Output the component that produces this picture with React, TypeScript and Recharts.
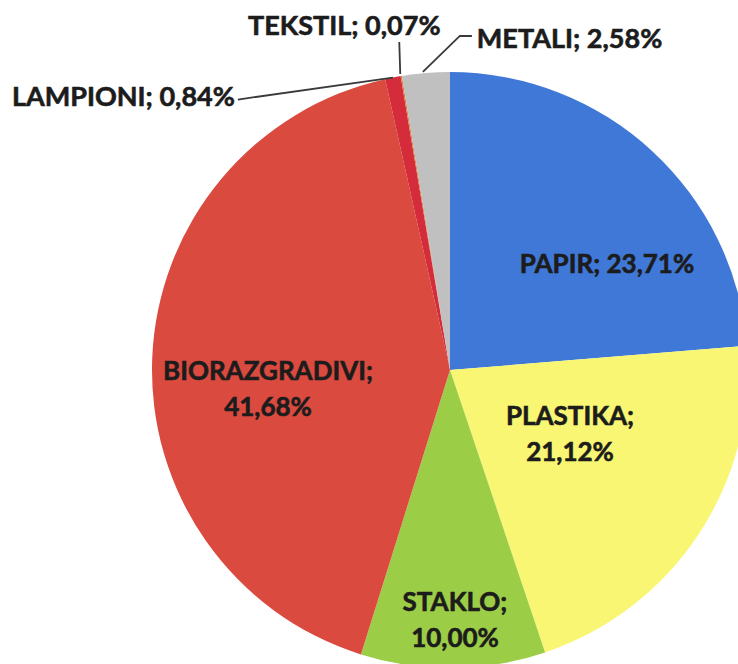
import React from 'react'
import { PieChart, Pie, Cell } from 'recharts'

const NAMES = ['PAPIR', 'PLASTIKA', 'STAKLO', 'BIORAZGRADIVI', 'LAMPIONI', 'TEKSTIL', 'METALI']
const VALUES = [23.71, 21.12, 10.0, 41.68, 0.84, 0.07, 2.58]
const COLORS = ['#3f78d6', '#f8f672', '#9ccd46', '#da4a3f', '#d42c3a', '#e07a3a', '#c0c0c0']

const data = NAMES.map((name, i) => ({ name, value: VALUES[i] }))

// label placement, px offsets. inside: from pie centre; outside: from the slice's outer point
const LAYOUT: Record<string, any> = {
  PAPIR: { kind: 'in', dx: 157, dy: -106, wrap: false },
  PLASTIKA: { kind: 'in', dx: 120, dy: 64, wrap: true },
  STAKLO: { kind: 'in', dx: 5, dy: 250, wrap: true },
  BIORAZGRADIVI: { kind: 'in', dx: -182, dy: 19, wrap: true },
  LAMPIONI: { kind: 'out', path: [[0, 0], [-155, 22]], tx: -158, ty: 19, anchor: 'end' },
  TEKSTIL: { kind: 'out', path: [[-1, -2], [-2, -34]], tx: -57, ty: -51, anchor: 'middle' },
  METALI: { kind: 'out', path: [[-3, -1], [34, -37], [46, -37]], tx: 51, ty: -35, anchor: 'start' },
}

const FONT = "Lato, 'Open Sans', sans-serif"
const FS = 26
const LINE_H = 36

const fmt = (v: number) => v.toFixed(2).replace('.', ',') + '%'

const renderLabel = (p: any) => {
  const { cx, cy, midAngle, outerRadius, index } = p
  const name = NAMES[index]
  const pct = fmt(VALUES[index])
  const lay = LAYOUT[name]
  // a thin stroke thickens Lato bold towards the heavier look of the original
  const txtProps = { fontFamily: FONT, fontWeight: 700, fill: '#1c1c1c', stroke: '#1c1c1c', strokeWidth: 0.6 }
  if (lay.kind === 'in') {
    const x = cx + lay.dx
    const yc = cy + lay.dy
    const lines = lay.wrap ? [name + ';', pct] : [name + '; ' + pct]
    const top = yc - ((lines.length - 1) * LINE_H) / 2
    return (
      <g key={`l-${index}`}>
        {lines.map((t, i) => (
          <text key={i} x={x} y={top + i * LINE_H + FS * 0.36} textAnchor="middle" fontSize={FS} {...txtProps}>{t}</text>
        ))}
      </g>
    )
  }
  const rad = (midAngle * Math.PI) / 180
  const ox = cx + outerRadius * Math.cos(rad)
  const oy = cy - outerRadius * Math.sin(rad)
  const pts = lay.path.map(([a, b]: number[]) => `${ox + a},${oy + b}`).join(' ')
  return (
    <g key={`l-${index}`}>
      <polyline points={pts} fill="none" stroke="#3a3a3a" strokeWidth={1.8} />
      <text x={ox + lay.tx} y={oy + lay.ty + (FS + 1) * 0.36} textAnchor={lay.anchor} fontSize={FS + 1} {...txtProps}>{name + '; ' + pct}</text>
    </g>
  )
}

export default function App() {
  return (
    <div style={{ width: 738, height: 664, background: '#fff', overflow: 'hidden' }}>
      <style>{`body{margin:0}`}</style>
      <PieChart width={738} height={664} margin={{ top: 0, right: 0, bottom: 0, left: 0 }}>
        <Pie
          data={data}
          dataKey="value"
          nameKey="name"
          cx={450}
          cy={370}
          outerRadius={298}
          startAngle={90}
          endAngle={-270}
          stroke="none"
          labelLine={false}
          label={renderLabel}
          isAnimationActive={false}
        >
          {data.map((_, i) => <Cell key={i} fill={COLORS[i]} />)}
        </Pie>
      </PieChart>
    </div>
  )
}
